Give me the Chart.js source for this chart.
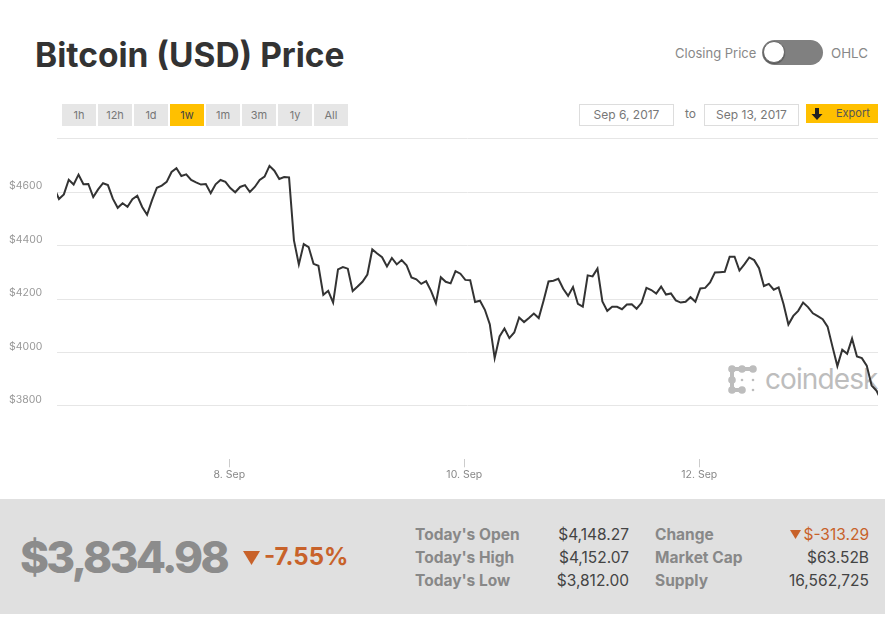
<!DOCTYPE html>
<html><head><meta charset="utf-8">
<script src="https://cdn.jsdelivr.net/npm/chart.js@4"></script>
<style>
html,body{margin:0;padding:0;background:#fff;width:885px;height:618px;overflow:hidden;font-family:Inter,sans-serif}
.a{position:absolute;white-space:nowrap;line-height:1}
.btn{position:absolute;top:104px;height:22px;width:34px;background:#e6e6e6;color:#777;font-size:11px;line-height:22px;text-align:center}
.date{position:absolute;top:104px;height:20px;border:1px solid #ddd;color:#777;font-size:12px;line-height:20px;text-align:center;background:#fff}
.lab{position:absolute;font-size:15.5px;font-weight:700;color:#888;line-height:1;white-space:nowrap}
.val{position:absolute;font-size:15.5px;font-weight:400;color:#444;line-height:1;text-align:right;white-space:nowrap}
canvas{position:absolute;left:0;top:0}
</style></head><body>
<div class="a" style="left:35px;top:39px;font-size:33.5px;font-weight:700;color:#333">Bitcoin (USD) Price</div>
<div class="a" style="left:675px;top:47px;font-size:13px;color:#888">Closing Price</div>
<div class="a" style="left:762px;top:40px;width:61px;height:25px;border-radius:13px;background:#808080"></div>
<div class="a" style="left:763px;top:41px;width:20px;height:20px;border-radius:50%;background:#fff;border:1px solid #666;box-shadow:0 1px 1px #555"></div>
<div class="a" style="left:831px;top:47px;font-size:13.3px;color:#888">OHLC</div>
<div class="btn" style="left:62px">1h</div><div class="btn" style="left:98px">12h</div><div class="btn" style="left:134px">1d</div>
<div class="btn" style="left:170px;background:#ffc000;color:#444">1w</div>
<div class="btn" style="left:206px">1m</div><div class="btn" style="left:242px">3m</div><div class="btn" style="left:278px">1y</div><div class="btn" style="left:314px">All</div>
<div class="date" style="left:579px;width:93px">Sep 6, 2017</div>
<div class="a" style="left:685px;top:108px;font-size:12px;color:#777">to</div>
<div class="date" style="left:704px;width:93px">Sep 13, 2017</div>
<div class="a" style="left:806px;top:104px;width:72px;height:19px;background:#ffc000"></div>
<svg class="a" style="left:811px;top:108px" width="12" height="12" viewBox="0 0 12 12"><path d="M4 0h4v6h3.5L6 12 .5 6H4z" fill="#222"/></svg>
<div class="a" style="left:836px;top:108px;font-size:11px;color:#555">Export</div>

<svg class="a" style="left:726px;top:363px" width="34" height="33" viewBox="726 363 34 33">
<g fill="#bdbdbd"><rect x="731" y="367" width="23" height="4"/><rect x="730" y="369" width="4" height="21"/><rect x="731" y="388" width="11" height="4"/>
<circle cx="732" cy="369" r="3.8"/><circle cx="742" cy="369" r="3.8"/><circle cx="753" cy="369" r="3.8"/><circle cx="732" cy="380" r="3.8"/><circle cx="732" cy="390" r="3.8"/><circle cx="742" cy="390" r="3.8"/>
<circle cx="742" cy="380" r="1.3"/><circle cx="753" cy="380" r="1.3"/><circle cx="753" cy="390" r="1.3"/></g></svg>
<div class="a" style="left:765px;top:365px;width:113px;overflow:hidden;font-size:28px;font-weight:400;letter-spacing:-.9px;color:#bdbdbd">coindesk</div>

<div class="a" style="left:0;top:499px;width:885px;height:115px;background:#e0e0e0"></div>
<div class="a" style="left:20px;top:535px;font-size:44px;font-weight:800;letter-spacing:-2.7px;color:#8c8c8c">$3,834.98</div>
<svg class="a" style="left:243px;top:551px" width="17" height="14"><path d="M0 0h17L8.500 14z" fill="#c8622a"/></svg>
<div class="a" style="left:264px;top:545px;font-size:24px;font-weight:700;color:#c8622a">-7.55%</div>
<div class="lab" style="left:415px;top:527px">Today's Open</div><div class="val" style="right:256px;top:527px">$4,148.27</div>
<div class="lab" style="left:415px;top:550px">Today's High</div><div class="val" style="right:256px;top:550px">$4,152.07</div>
<div class="lab" style="left:415px;top:573px">Today's Low</div><div class="val" style="right:256px;top:573px">$3,812.00</div>
<div class="lab" style="left:655px;top:527px">Change</div>
<svg class="a" style="left:790px;top:530px" width="11" height="9"><path d="M0 0h11L5.500 9z" fill="#c8622a"/></svg>
<div class="val" style="right:16px;top:527px;color:#c8622a">$-313.29</div>
<div class="lab" style="left:655px;top:550px">Market Cap</div><div class="val" style="right:16px;top:550px">$63.52B</div>
<div class="lab" style="left:655px;top:573px">Supply</div><div class="val" style="right:16px;top:573px">16,562,725</div>

<canvas id="c" width="885" height="499" style="width:885px;height:499px"></canvas>
<script>
const firstHour = 12.2;           // first reading: hours after 00:00 on 6 Sep
const prices = [4617,4575,4592,4647,4629,4666,4630,4631,4582,4611,4634,4627,4576,4542,4559,4546,4574,4587,4545,4516,
4570,4617,4625,4639,4676,4690,4661,4667,4646,4637,4629,4631,4597,4630,4646,4639,4616,4600,4620,4627,
4601,4620,4646,4659,4699,4681,4650,4657,4656,4420,4330,
4406,4395,4332,4325,4216,4231,4187,4311,4320,4314,4230,4247,4265,4292,4386,4371,4357,4322,4354,4330,
4346,4327,4281,4274,4257,4267,4231,4185,4282,4265,4259,4305,4295,4272,4271,4189,4194,4160,4106,3979,
4060,4090,4054,4075,4131,4114,4129,4146,4129,4195,4266,4269,4276,4239,4212,4245,4182,4172,
4289,4285,4314,4191,4156,4171,4171,4162,4180,4181,4164,4186,4242,4234,4221,4247,4217,4221,4195,4187,
4190,4207,4190,4240,4242,4262,4300,4301,4302,4359,4359,4307,4330,4356,4346,4316,4249,4257,4235,4244,
4182,4105,4137,4156,4187,4170,4147,4136,4125,4097,4022,3949,4010,3995,4052,3985,3979,3951,3876,3857,3820];
const yTicks = [3800,4000,4200,4400,4600,4800];
const yLabels = {3800:'$3800',4000:'$4000',4200:'$4200',4400:'$4400',4600:'$4600',4800:''};
const xTicks = [48,96,144];
const xLabels = {48:'8. Sep',96:'10. Sep',144:'12. Sep'};
new Chart(document.getElementById('c'),{
  type:'line',
  data:{datasets:[{data:prices.map((p,i)=>({x:firstHour+i,y:p})),borderColor:'#333',borderWidth:2,pointRadius:0,tension:0,fill:false}]},
  options:{
    responsive:false,animation:false,
    layout:{padding:{left:9,right:7,top:138.9,bottom:0}},
    plugins:{legend:{display:false},tooltip:{enabled:false}},
    scales:{
      x:{type:'linear',min:12.8,max:180.5,
        afterBuildTicks:s=>{s.ticks=xTicks.map(v=>({value:v}));},
        afterFit:s=>{s.height=39.7;},
        border:{display:false},
        grid:{drawOnChartArea:false,drawTicks:true,tickLength:8,color:'#ccc'},
        ticks:{autoSkip:false,maxRotation:0,padding:1,color:'#888',font:{family:'Inter',size:10.5},callback:v=>xLabels[v]}},
      y:{min:3600,max:4800,
        afterBuildTicks:s=>{s.ticks=yTicks.map(v=>({value:v}));},
        afterFit:s=>{s.width=48;},
        border:{display:false},
        grid:{color:'#e6e6e6',drawTicks:false,lineWidth:1},
        ticks:{crossAlign:'far',labelOffset:-6,padding:0,color:'#999',font:{family:'Inter',size:10.5},callback:v=>yLabels[v]}}
    }
  }
});
</script>
</body></html>
